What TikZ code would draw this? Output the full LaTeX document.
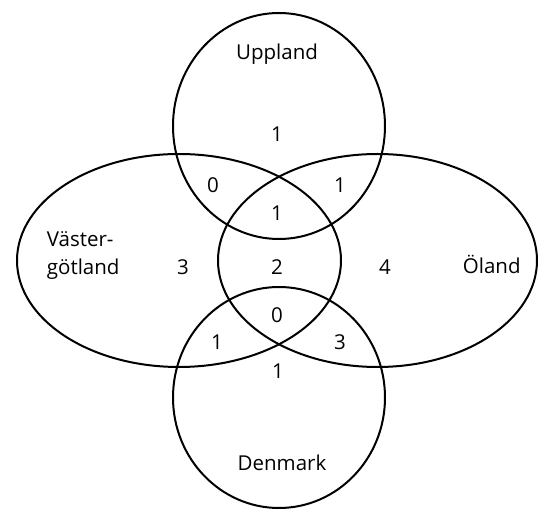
\documentclass[tikz,border=0pt]{standalone}
\usepackage{fontspec}
\setmainfont{Open Sans}
\begin{document}
\begin{tikzpicture}[x=1pt,y=-1pt,
  region/.style={draw=black,line width=2pt},
  setname/.style={inner sep=0pt,font=\fontsize{20.5}{27.6}\selectfont},
  count/.style={inner sep=0pt,anchor=base,font=\fontsize{20.5}{27.6}\selectfont}]
\useasboundingbox (0,0) rectangle (539,510);
% the four sets
\draw[region] (279,126) ellipse [x radius=106, y radius=113];
\draw[region] (179,260.5) ellipse [x radius=162, y radius=106.5];
\draw[region] (377.5,260.5) ellipse [x radius=159.5, y radius=106.5];
\draw[region] (279,397.5) ellipse [x radius=106, y radius=110.5];
% set names
\node[setname,anchor=base] (up) at (277,59.3) {Uppland};
\node[setname,anchor=base west,align=left] (vg) at (46.7,274.3) {Väster-\\götland};
\node[setname,anchor=base west] (ol) at (462.7,273.3) {Öland};
\node[setname,anchor=base] (dk) at (282,471) {Denmark};
% region counts
\node[count] (c1) at (277,141.7) {1};
\node[count] (c2) at (213,193) {0};
\node[count] (c3) at (340,193) {1};
\node[count] (c4) at (277,220.7) {1};
\node[count] (c5) at (183,275) {3};
\node[count] (c6) at (277,275) {2};
\node[count] (c7) at (385,275) {4};
\node[count] (c8) at (277,322.7) {0};
\node[count] (c9) at (217,350) {1};
\node[count] (c10) at (340,350) {3};
\node[count] (c11) at (278,378.3) {1};
\end{tikzpicture}
\end{document}
